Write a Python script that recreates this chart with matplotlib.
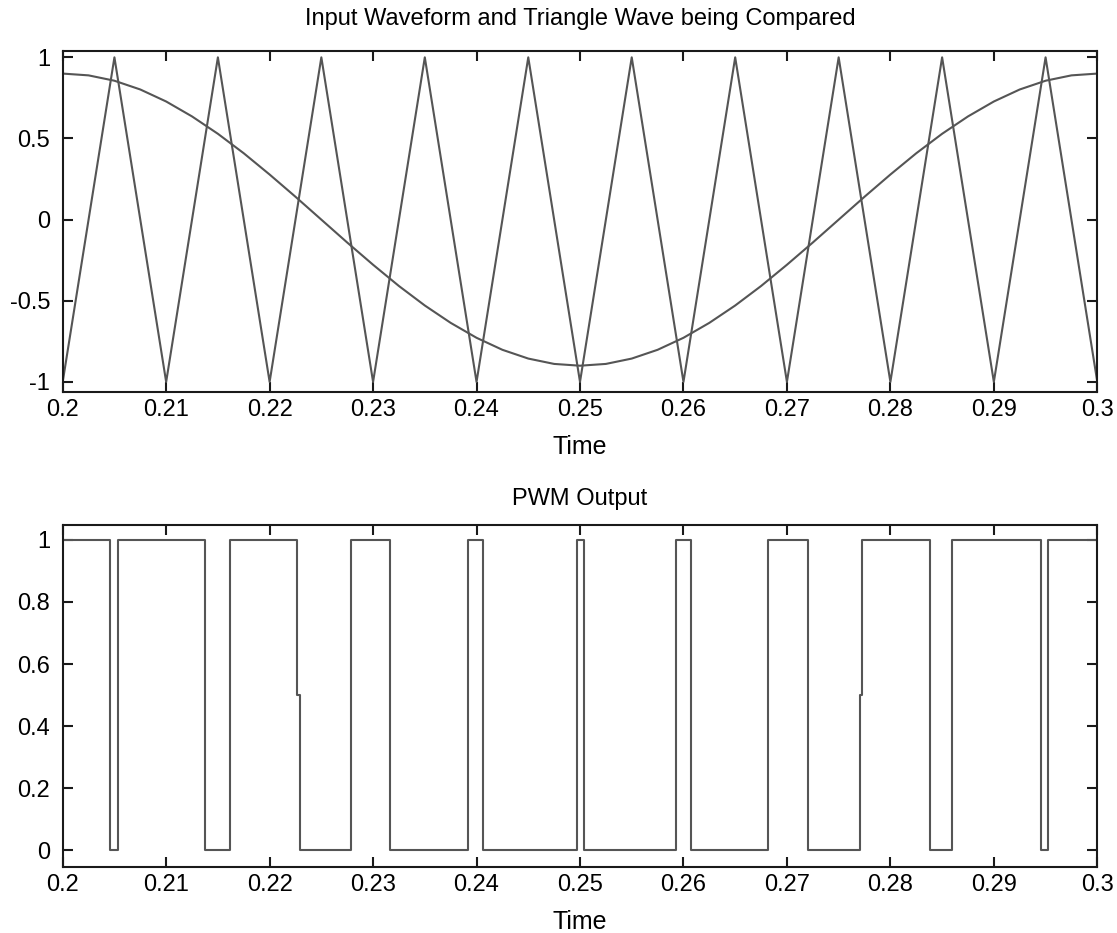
#!/usr/bin/env python3
# -*- coding: utf-8 -*-
"""
PWM 比較圖
上: 輸入波形 (餘弦) 與三角載波, 下: 比較後的 PWM 輸出
"""

import matplotlib

matplotlib.use("Agg")
import matplotlib.pyplot as plt

plt.rcParams["font.family"] = ["Liberation Sans", "DejaVu Sans"]
plt.rcParams["axes.unicode_minus"] = False

# 三角載波頂點 (時間, 值)
tri_t = [0.200, 0.205, 0.210, 0.215, 0.220, 0.225, 0.230, 0.235, 0.240, 0.245, 0.250,
         0.255, 0.260, 0.265, 0.270, 0.275, 0.280, 0.285, 0.290, 0.295, 0.300]
tri_v = [-1, 1, -1, 1, -1, 1, -1, 1, -1, 1, -1,
         1, -1, 1, -1, 1, -1, 1, -1, 1, -1]

# 輸入波形, 每 0.0025 讀一點
wave_t = [0.2000, 0.2025, 0.2050, 0.2075, 0.2100, 0.2125, 0.2150, 0.2175, 0.2200, 0.2225,
          0.2250, 0.2275, 0.2300, 0.2325, 0.2350, 0.2375, 0.2400, 0.2425, 0.2450, 0.2475,
          0.2500, 0.2525, 0.2550, 0.2575, 0.2600, 0.2625, 0.2650, 0.2675, 0.2700, 0.2725,
          0.2750, 0.2775, 0.2800, 0.2825, 0.2850, 0.2875, 0.2900, 0.2925, 0.2950, 0.2975,
          0.3000]
wave_v = [0.900, 0.889, 0.856, 0.802, 0.728, 0.636, 0.529, 0.409, 0.278, 0.141,
          0.000, -0.141, -0.278, -0.409, -0.529, -0.636, -0.728, -0.802, -0.856, -0.889,
          -0.900, -0.889, -0.856, -0.802, -0.728, -0.636, -0.529, -0.409, -0.278, -0.141,
          0.000, 0.141, 0.278, 0.409, 0.529, 0.636, 0.728, 0.802, 0.856, 0.889,
          0.900]

# PWM 輸出: 每段起點時間與電平 (steps-post)
pwm_t = [0.2000, 0.2046, 0.2053, 0.2138, 0.2162, 0.2226, 0.2229, 0.2279, 0.2316, 0.2392,
         0.2406, 0.2497, 0.2504, 0.2593, 0.2607, 0.2682, 0.2720, 0.2771, 0.2773, 0.2838,
         0.2860, 0.2946, 0.2952, 0.3000]
pwm_v = [1, 0, 1, 0, 1, 0.5, 0, 1, 0, 1,
         0, 1, 0, 1, 0, 1, 0, 0.5, 1, 0,
         1, 0, 1, 1]

# 刻度
x_ticks = [0.2, 0.21, 0.22, 0.23, 0.24, 0.25, 0.26, 0.27, 0.28, 0.29, 0.3]
x_labels = ["0.2", "0.21", "0.22", "0.23", "0.24", "0.25", "0.26", "0.27", "0.28", "0.29", "0.3"]
top_y_ticks = [-1, -0.5, 0, 0.5, 1]
top_y_labels = ["-1", "-0.5", "0", "0.5", "1"]
bot_y_ticks = [0, 0.2, 0.4, 0.6, 0.8, 1]
bot_y_labels = ["0", "0.2", "0.4", "0.6", "0.8", "1"]

LINE_COLOR = "#555555"
FONT_SIZE = 17


def style_axes(ax, yticks, ylabels):
    """MATLAB 風格: 四邊框線, 刻度朝內"""
    for side in ["top", "bottom", "left", "right"]:
        ax.spines[side].set_linewidth(1.5)
        ax.spines[side].set_color("#1a1a1a")
    ax.set_xlim(0.2, 0.3)
    ax.set_xticks(x_ticks)
    ax.set_xticklabels(x_labels)
    ax.set_yticks(yticks)
    ax.set_yticklabels(ylabels)
    ax.tick_params(
        direction="in", top=True, right=True, length=7, width=1.5,
        color="#1a1a1a", labelsize=FONT_SIZE,
    )
    ax.tick_params(axis="x", pad=5)
    ax.tick_params(axis="y", pad=9)
    ax.set_xlabel("Time", fontsize=18, labelpad=10)


def main():
    fig = plt.figure(figsize=(11.17, 9.33), dpi=100)

    # 1. 輸入波形與三角波
    ax1 = fig.add_axes([0.05613, 0.57985, 0.92624, 0.36581])
    ax1.plot(tri_t, tri_v, color=LINE_COLOR, linewidth=1.5)
    ax1.plot(wave_t, wave_v, color=LINE_COLOR, linewidth=1.5)
    ax1.set_ylim(-1.062, 1.041)
    style_axes(ax1, top_y_ticks, top_y_labels)
    ax1.set_title("Input Waveform and Triangle Wave being Compared",
                  fontsize=FONT_SIZE, pad=18.5)

    # 2. PWM 輸出
    ax2 = fig.add_axes([0.05613, 0.07074, 0.92624, 0.36656])
    ax2.plot(pwm_t, pwm_v, drawstyle="steps-post", color=LINE_COLOR, linewidth=1.5)
    ax2.set_ylim(-0.054, 1.048)
    style_axes(ax2, bot_y_ticks, bot_y_labels)
    ax2.set_title("PWM Output", fontsize=FONT_SIZE, pad=14.4)

    fig.savefig("out.png", dpi=100)


if __name__ == "__main__":
    main()
